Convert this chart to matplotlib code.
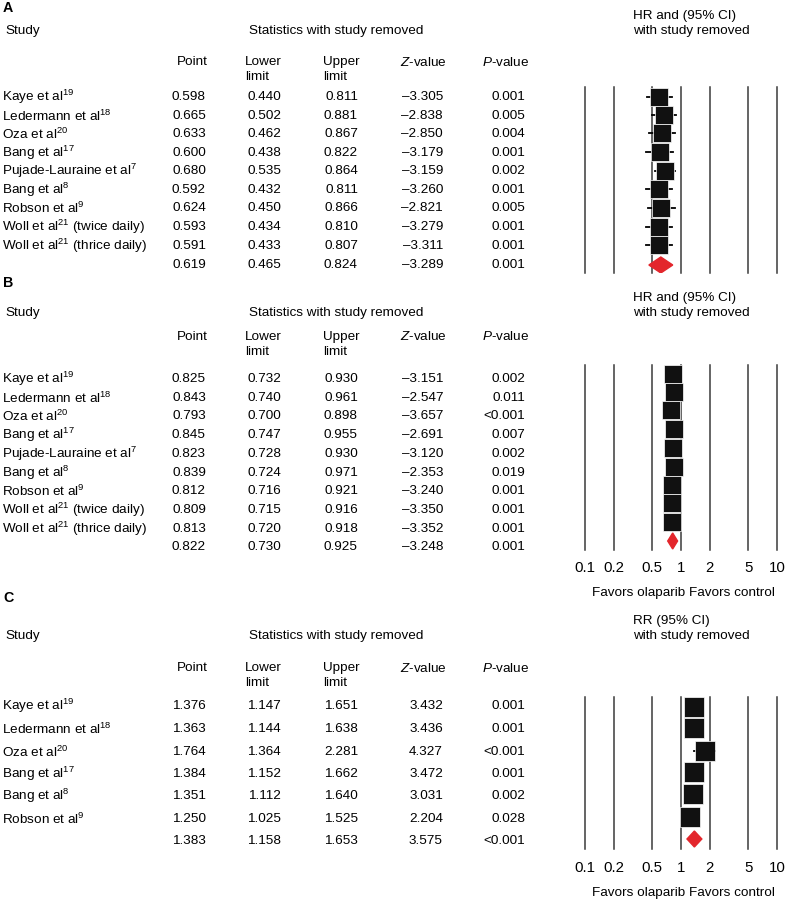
import matplotlib.pyplot as plt
from matplotlib.patches import Polygon

plt.rcParams['font.family'] = 'Liberation Sans'
plt.rcParams['mathtext.fontset'] = 'custom'
plt.rcParams['mathtext.rm'] = 'Liberation Sans'
plt.rcParams['mathtext.it'] = 'Liberation Sans:italic'

# ---- data ----
names_a = ["Kaye et al$^{19}$", "Ledermann et al$^{18}$", "Oza et al$^{20}$", "Bang et al$^{17}$",
           "Pujade-Lauraine et al$^{7}$", "Bang et al$^{8}$", "Robson et al$^{9}$",
           "Woll et al$^{21}$ (twice daily)", "Woll et al$^{21}$ (thrice daily)", ""]
point_a = [0.598, 0.665, 0.633, 0.600, 0.680, 0.592, 0.624, 0.593, 0.591, 0.619]
lower_a = [0.440, 0.502, 0.462, 0.438, 0.535, 0.432, 0.450, 0.434, 0.433, 0.465]
upper_a = [0.811, 0.881, 0.867, 0.822, 0.864, 0.811, 0.866, 0.810, 0.807, 0.824]
z_a = [-3.305, -2.838, -2.850, -3.179, -3.159, -3.260, -2.821, -3.279, -3.311, -3.289]
p_a = ["0.001", "0.005", "0.004", "0.001", "0.002", "0.001", "0.005", "0.001", "0.001", "0.001"]

names_b = names_a
point_b = [0.825, 0.843, 0.793, 0.845, 0.823, 0.839, 0.812, 0.809, 0.813, 0.822]
lower_b = [0.732, 0.740, 0.700, 0.747, 0.728, 0.724, 0.716, 0.715, 0.720, 0.730]
upper_b = [0.930, 0.961, 0.898, 0.955, 0.930, 0.971, 0.921, 0.916, 0.918, 0.925]
z_b = [-3.151, -2.547, -3.657, -2.691, -3.120, -2.353, -3.240, -3.350, -3.352, -3.248]
p_b = ["0.002", "0.011", "<0.001", "0.007", "0.002", "0.019", "0.001", "0.001", "0.001", "0.001"]

names_c = ["Kaye et al$^{19}$", "Ledermann et al$^{18}$", "Oza et al$^{20}$", "Bang et al$^{17}$",
           "Bang et al$^{8}$", "Robson et al$^{9}$", ""]
point_c = [1.376, 1.363, 1.764, 1.384, 1.351, 1.250, 1.383]
lower_c = [1.147, 1.144, 1.364, 1.152, 1.112, 1.025, 1.158]
upper_c = [1.651, 1.638, 2.281, 1.662, 1.640, 1.525, 1.653]
z_c = [3.432, 3.436, 4.327, 3.472, 3.031, 2.204, 3.575]
p_c = ["0.001", "0.001", "<0.001", "0.001", "0.002", "0.028", "<0.001"]

ticks = [0.1, 0.2, 0.5, 1, 2, 5, 10]
tick_labels = ["0.1", "0.2", "0.5", "1", "2", "5", "10"]

# ---- layout (pixels) ----
W, H = 787, 899
FS = 9.7
RED = '#e3262c'
fig = plt.figure(figsize=(W / 100, H / 100), dpi=100)
bg = fig.add_axes([0, 0, 1, 1])
bg.set_xlim(0, W)
bg.set_ylim(H, 0)
bg.axis('off')

X0, X1 = 584.7, 777.0   # pixel span of 0.1 .. 10


def fmt_z(v):
    s = f"{abs(v):.3f}"
    return ("\u2013" + s) if v < 0 else s


def panel(letter, y_letter, y_head, y_cols, title, rows, mark_rows, line_y, sq, names,
          point, lower, upper, zv, pv, ticks_y=None):
    bg.text(3, y_letter, letter, fontsize=FS + 0.6, fontweight='bold', va='center')
    bg.text(5, y_head, "Study", fontsize=FS, va='center')
    bg.text(336, y_head, "Statistics with study removed", fontsize=FS, va='center', ha='center')
    bg.text(633, y_head - 15, title, fontsize=FS, va='center')
    bg.text(633, y_head, "with study removed", fontsize=FS, va='center')
    bg.text(177, y_cols, "Point", fontsize=FS, va='center')
    bg.text(245, y_cols, "Lower", fontsize=FS, va='center')
    bg.text(245, y_cols + 15, "limit", fontsize=FS, va='center')
    bg.text(323, y_cols, "Upper", fontsize=FS, va='center')
    bg.text(323, y_cols + 15, "limit", fontsize=FS, va='center')
    bg.text(400, y_cols, "$Z$-value", fontsize=FS, va='center')
    bg.text(482, y_cols, "$P$-value", fontsize=FS, va='center')
    for i, y in enumerate(rows):
        bg.text(2, y, names[i], fontsize=FS, va='center')
        bg.text(206, y, f"{point[i]:.3f}", fontsize=FS, va='center', ha='right')
        bg.text(281, y, f"{lower[i]:.3f}", fontsize=FS, va='center', ha='right')
        bg.text(358, y, f"{upper[i]:.3f}", fontsize=FS, va='center', ha='right')
        bg.text(443, y, fmt_z(zv[i]), fontsize=FS, va='center', ha='right')
        bg.text(525, y, pv[i], fontsize=FS, va='center', ha='right')

    y0, y1 = line_y
    ax = fig.add_axes([X0 / W, 1 - y1 / H, (X1 - X0) / W, (y1 - y0) / H])
    ax.set_xscale('log')
    ax.set_xlim(0.1, 10)
    ax.set_ylim(y1, y0)
    ax.axis('off')
    for t in ticks:
        ax.axvline(t, color='#3a3a3a', lw=1.1, clip_on=False, zorder=1)
    n = len(mark_rows)
    for i, y in enumerate(mark_rows[:-1]):
        ax.plot([lower[i], upper[i]], [y, y], color='black', lw=1.3, zorder=2)
        ax.plot(point[i], y, marker='s', ms=sq * 0.72, color='#111111',
                mec='white', mew=0.5, zorder=3)
    y = mark_rows[n - 1]
    dia = Polygon([(lower[-1], y), (point[-1], y - 8), (upper[-1], y), (point[-1], y + 8)],
                  closed=True, color=RED, zorder=4)
    ax.add_patch(dia)
    if ticks_y is not None:
        for t, lab in zip(ticks, tick_labels):
            ax.text(t, ticks_y, lab, fontsize=10.8, ha='center', va='center')
        bg.text(683, ticks_y + 25, "Favors olaparib Favors control", fontsize=FS,
                ha='center', va='center')


rows_a = [97, 116, 134, 153, 171, 190, 208, 227, 246, 265]
panel("A", 8, 31, 62, "HR and (95% CI)", rows_a, [97, 115, 133, 152, 171, 189, 208, 227, 245, 265],
      (87, 273), 17.5, names_a, point_a, lower_a, upper_a, z_a, p_a)

rows_b = [379, 398, 416, 435, 454, 473, 491, 510, 529, 547]
panel("B", 283, 313, 337, "HR and (95% CI)", rows_b, [374, 392, 410, 429, 448, 467, 485, 503, 522, 541],
      (365, 550), 17.5, names_b, point_b, lower_b, upper_b, z_b, p_b, ticks_y=568)

rows_c = [706, 729, 752, 774, 796, 819, 841]
panel("C", 598, 636, 668, "RR (95% CI)", rows_c, [707, 728, 751, 772, 794, 817, 839],
      (697, 849), 20.5, names_c, point_c, lower_c, upper_c, z_c, p_c, ticks_y=868)

fig.savefig("out.png", dpi=100)
